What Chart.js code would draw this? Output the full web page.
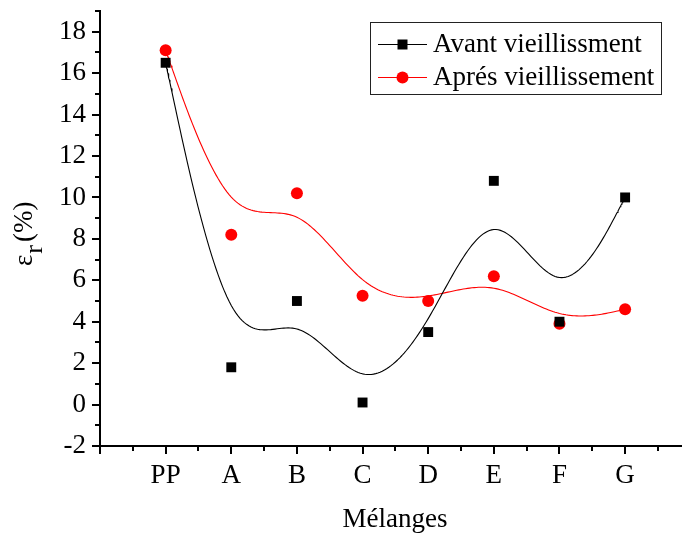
<!DOCTYPE html>
<html>
<head>
<meta charset="utf-8">
<title>Mélanges</title>
<script src="https://cdn.jsdelivr.net/npm/chart.js@4/dist/chart.umd.min.js"></script>
<style>
  html, body { margin: 0; padding: 0; background: #fff; }
  canvas { display: block; }
</style>
</head>
<body>
<canvas id="chart" width="682" height="534"></canvas>
<script>
const categories = ['PP', 'A', 'B', 'C', 'D', 'E', 'F', 'G'];
const avant = [16.5, 1.8, 5.0, 0.1, 3.5, 10.8, 4.0, 10.0];
const apres = [17.1, 8.2, 10.2, 5.25, 5.0, 6.2, 3.9, 4.6];
const seriesNames = ['Avant vieillissment', 'Aprés vieillissement'];
const yMin = -2, yMax = 19;

const FONT = '"Liberation Serif", "Times New Roman", serif';
const FSIZE = 27;

// uniform cubic B-spline, end points tripled so the curve starts/ends on them
function bspline(ys, steps) {
  const c = [];
  const n = ys.length;
  c.push([0, ys[0]], [0, ys[0]]);
  ys.forEach((y, i) => c.push([i, y]));
  c.push([n - 1, ys[n - 1]], [n - 1, ys[n - 1]]);
  const out = [];
  for (let seg = 0; seg + 3 < c.length; seg++) {
    for (let s = (seg === 0 ? 0 : 1); s <= steps; s++) {
      const t = s / steps, t2 = t * t, t3 = t2 * t;
      const b0 = (1 - t) * (1 - t) * (1 - t) / 6;
      const b1 = (3 * t3 - 6 * t2 + 4) / 6;
      const b2 = (-3 * t3 + 3 * t2 + 3 * t + 1) / 6;
      const b3 = t3 / 6;
      const p = [0, 1].map(k =>
        b0 * c[seg][k] + b1 * c[seg + 1][k] + b2 * c[seg + 2][k] + b3 * c[seg + 3][k]);
      out.push({ x: p[0], y: p[1] });
    }
  }
  return out;
}

const points = ys => ys.map((y, i) => ({ x: i, y: y }));

function noPadding(scale) {
  scale.paddingLeft = 0;
  scale.paddingRight = 0;
  scale.paddingTop = 0;
  scale.paddingBottom = 0;
}

// axis line running out to the canvas edge + outward tick marks
const tickMarks = {
  id: 'tickMarks',
  afterDraw(chart) {
    const ctx = chart.ctx, area = chart.chartArea;
    const xs = chart.scales.x, ys = chart.scales.y;
    ctx.save();
    ctx.strokeStyle = '#000';
    ctx.lineWidth = 2;
    ctx.beginPath();
    ctx.moveTo(area.left - 1, area.bottom);
    ctx.lineTo(chart.width, area.bottom);
    for (let v = -1; v <= 7.5; v += 0.5) {
      const px = Math.round(xs.getPixelForValue(v));
      const len = Number.isInteger(v) ? 8 : 5;
      ctx.moveTo(px, area.bottom);
      ctx.lineTo(px, area.bottom + len);
    }
    for (let v = yMin; v <= yMax; v += 1) {
      const py = Math.round(ys.getPixelForValue(v));
      const len = v % 2 === 0 ? 8 : 5;
      ctx.moveTo(area.left, py);
      ctx.lineTo(area.left - len, py);
    }
    ctx.stroke();
    ctx.restore();
  }
};

// axis titles, the y one with a subscript
const axisTitles = {
  id: 'axisTitles',
  afterDraw(chart) {
    const ctx = chart.ctx;
    ctx.save();
    ctx.fillStyle = '#000';
    ctx.font = FSIZE + 'px ' + FONT;
    ctx.textAlign = 'center';
    ctx.textBaseline = 'alphabetic';
    ctx.fillText('Mélanges', 395, 527);

    ctx.translate(32, 266);
    ctx.rotate(-Math.PI / 2);
    ctx.textAlign = 'left';
    ctx.fillText('ε', 0, 0);
    let u = ctx.measureText('ε').width + 1;
    ctx.font = '26px ' + FONT;
    ctx.fillText('r', u, 10);
    u += ctx.measureText('r').width + 3;
    ctx.font = FSIZE + 'px ' + FONT;
    ctx.fillText('(%)', u, 0);
    ctx.restore();
  }
};

// boxed legend with line + marker samples
const boxLegend = {
  id: 'boxLegend',
  afterDraw(chart) {
    const ctx = chart.ctx;
    const box = { left: 370, top: 22, right: 661, bottom: 94 };
    ctx.save();
    ctx.fillStyle = '#fff';
    ctx.fillRect(box.left, box.top, box.right - box.left, box.bottom - box.top);
    ctx.strokeStyle = '#222';
    ctx.lineWidth = 1;
    ctx.strokeRect(box.left + 0.5, box.top + 0.5, box.right - box.left, box.bottom - box.top);
    const rows = [
      { y: 44, color: '#000', style: 'rect' },
      { y: 77, color: '#ff0000', style: 'circle' }
    ];
    rows.forEach((r, i) => {
      ctx.strokeStyle = r.color;
      ctx.fillStyle = r.color;
      ctx.beginPath();
      ctx.moveTo(378, r.y + 0.5);
      ctx.lineTo(427, r.y + 0.5);
      ctx.stroke();
      ctx.beginPath();
      if (r.style === 'rect') ctx.rect(397.5, r.y - 4.5, 10, 10);
      else ctx.arc(402.5, r.y + 0.5, 6, 0, Math.PI * 2);
      ctx.fill();
      ctx.fillStyle = '#000';
      ctx.font = FSIZE + 'px ' + FONT;
      ctx.textBaseline = 'middle';
      ctx.fillText(seriesNames[i], 433, r.y + 1);
    });
    ctx.restore();
  }
};

new Chart(document.getElementById('chart'), {
  type: 'scatter',
  data: {
    datasets: [
      {
        label: seriesNames[1] + ' (courbe)',
        type: 'line',
        data: bspline(apres, 30),
        borderColor: '#ff0000',
        borderWidth: 1.1,
        borderJoinStyle: 'round',
        pointRadius: 0,
        fill: false,
        clip: false,
        order: 3
      },
      {
        label: seriesNames[0] + ' (courbe)',
        type: 'line',
        data: bspline(avant, 30),
        borderColor: '#000',
        borderWidth: 1.1,
        borderJoinStyle: 'round',
        pointRadius: 0,
        fill: false,
        clip: false,
        order: 2
      },
      {
        label: seriesNames[1],
        data: points(apres),
        pointStyle: 'circle',
        pointRadius: 6,
        backgroundColor: '#ff0000',
        borderWidth: 0,
        clip: false,
        order: 1
      },
      {
        label: seriesNames[0],
        data: points(avant),
        pointStyle: 'rect',
        pointRadius: 7,
        backgroundColor: '#000',
        borderWidth: 0,
        clip: false,
        order: 0
      }
    ]
  },
  options: {
    responsive: false,
    animation: false,
    devicePixelRatio: 1,
    layout: { padding: { top: 11, left: 0, right: 0, bottom: 0 } },
    plugins: {
      legend: { display: false },
      tooltip: { enabled: false }
    },
    scales: {
      x: {
        type: 'linear',
        min: -1,
        max: 7.76,
        afterFit(scale) {
          scale.height = 88;
          noPadding(scale);
        },
        afterBuildTicks(scale) {
          const t = [];
          for (let v = -1; v <= 7; v++) t.push({ value: v });
          scale.ticks = t;
        },
        grid: { display: false, drawTicks: true, tickLength: 8 },
        border: { display: false },
        ticks: {
          autoSkip: false,
          maxRotation: 0,
          padding: 6,
          color: '#000',
          font: { family: FONT, size: FSIZE },
          callback: v => (v >= 0 && v < categories.length) ? categories[v] : ''
        }
      },
      y: {
        min: yMin,
        max: yMax,
        afterFit(scale) {
          scale.width = 100;
          noPadding(scale);
        },
        afterBuildTicks(scale) {
          const t = [];
          for (let v = yMin; v <= 18; v += 2) t.push({ value: v });
          scale.ticks = t;
        },
        grid: { display: false, drawTicks: true, tickLength: 8 },
        border: { display: true, color: '#000', width: 2 },
        ticks: {
          padding: 6,
          color: '#000',
          font: { family: FONT, size: FSIZE },
          callback: v => String(v)
        }
      }
    }
  },
  plugins: [tickMarks, axisTitles, boxLegend]
});
</script>
</body>
</html>
